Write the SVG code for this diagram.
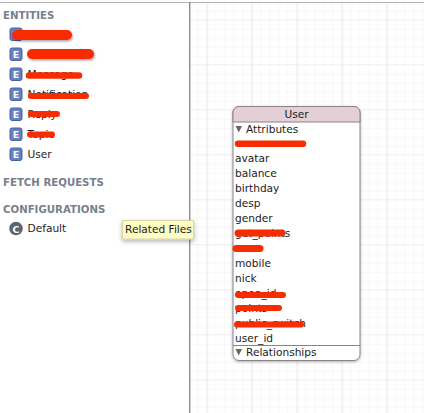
<svg xmlns="http://www.w3.org/2000/svg" width="424" height="413" viewBox="0 0 424 413">
<defs>
<style>
text{font-family:"Lucida Grande","DejaVu Sans","Liberation Sans",sans-serif;font-size:10.6px;fill:#1c1c1c}
.h{font-weight:bold;fill:#76808e;font-size:10.2px}
.i{fill:#fff;font-weight:bold;font-size:9.5px;text-anchor:middle}
.b{fill:#6380c0;stroke:#49639f;stroke-width:1}
.r{fill:none;stroke:#f72c00;stroke-linecap:round}
.t{fill:#666}
</style>
<pattern id="g" x="189.3" y="2.7" width="9" height="9" patternUnits="userSpaceOnUse"><path d="M9 0V9M0 9H9" fill="none" stroke="#f1f1f1" stroke-width="1"/></pattern>
<pattern id="g5" x="171.3" y="20" width="45" height="45" patternUnits="userSpaceOnUse"><path d="M36 0V45M0 45H45" fill="none" stroke="#e9e9e9" stroke-width="1"/></pattern>
<filter id="s" x="-20%" y="-40%" width="140%" height="200%"><feDropShadow dx="0" dy="2" stdDeviation="2" flood-color="#000" flood-opacity=".3"/></filter>
<filter id="s2" x="-20%" y="-20%" width="140%" height="140%"><feDropShadow dx="0" dy="1" stdDeviation="1.5" flood-color="#000" flood-opacity=".3"/></filter>
<filter id="s3" filterUnits="userSpaceOnUse" x="0" y="20" width="110" height="50"><feDropShadow dx="1" dy="1.500" stdDeviation="1.200" flood-color="#000" flood-opacity=".35"/></filter>
</defs>
<rect width="424" height="413" fill="#fff"/>
<rect x="190" y="3" width="234" height="410" fill="url(#g)"/>
<rect x="190" y="3" width="234" height="410" fill="url(#g5)"/>
<rect y="2" width="424" height="1" fill="#b4b4b4"/>
<rect x="189" y="2" width="1.4" height="411" fill="#8c8c8c"/>

<text class="h" x="3" y="19">ENTITIES</text>
<text class="h" x="3" y="186">FETCH REQUESTS</text>
<text class="h" x="3" y="213">CONFIGURATIONS</text>

<g id="entity-1"><rect class="b" x="10" y="28" width="12" height="12.5" rx="2"/><text class="i" x="16" y="38">E</text></g>
<g id="entity-2"><rect class="b" x="10" y="48" width="12" height="12.5" rx="2"/><text class="i" x="16" y="58">E</text></g>
<g id="entity-message"><rect class="b" x="10" y="68" width="12" height="12.5" rx="2"/><text class="i" x="16" y="78">E</text><text x="27.500" y="78">Message</text></g>
<g id="entity-notification"><rect class="b" x="10" y="88" width="12" height="12.5" rx="2"/><text class="i" x="16" y="98">E</text><text x="27.500" y="98">Notification</text></g>
<g id="entity-reply"><rect class="b" x="10" y="108" width="12" height="12.5" rx="2"/><text class="i" x="16" y="118">E</text><text x="27.500" y="118">Reply</text></g>
<g id="entity-topic"><rect class="b" x="10" y="128" width="12" height="12.5" rx="2"/><text class="i" x="16" y="138">E</text><text x="27.500" y="138">Topic</text></g>
<g id="entity-user"><rect class="b" x="10" y="148" width="12" height="12.5" rx="2"/><text class="i" x="16" y="158">E</text><text x="27.500" y="158">User</text></g>
<g id="config-default"><circle cx="16" cy="228.500" r="6.800" fill="#5c6670"/><text class="i" x="16" y="232.500">C</text><text x="27.500" y="232">Default</text></g>

<g id="tooltip"><rect x="122.500" y="220.500" width="71" height="18.500" fill="#fdfdc4" stroke="#d6d6a8" filter="url(#s)"/><text x="125" y="233">Related Files</text></g>

<g id="node-user">
<rect x="233" y="106.500" width="127" height="254" rx="6" fill="#fff" stroke="#8a8288" filter="url(#s2)"/>
<path d="M233 122V112.500a6 6 0 0 1 6-6H354a6 6 0 0 1 6 6V122Z" fill="#e5cfd6" stroke="#8a8288"/>
<text x="296.500" y="118" text-anchor="middle">User</text>
<path class="t" d="M235.500 126H242L238.700 132.500Z"/>
<text x="246" y="133">Attributes</text>
<text x="235" y="162">avatar</text>
<text x="235" y="177">balance</text>
<text x="235" y="192">birthday</text>
<text x="235" y="207">desp</text>
<text x="235" y="222">gender</text>
<text x="235" y="237">get_points</text>
<text x="235" y="267">mobile</text>
<text x="235" y="282">nick</text>
<text x="235" y="297">open_id</text>
<text x="235" y="312">points</text>
<text x="235" y="327">public_switch</text>
<text x="235" y="342">user_id</text>
<path d="M233 345.500H360" stroke="#8a8288" fill="none"/>
<path class="t" d="M235.500 349H242L238.700 355.500Z"/>
<text x="246" y="356">Relationships</text>
</g>

<g id="redactions">
<path class="r" stroke-width="10" d="M17 35H67" filter="url(#s3)"/>
<path class="r" stroke-width="10" d="M32 54H89" filter="url(#s3)"/>
<path class="r" stroke-width="6.500" d="M29 75.500H79"/>
<path class="r" stroke-width="6" d="M31 96H86"/>
<path class="r" stroke-width="6" d="M31 114H57"/>
<path class="r" stroke-width="6" d="M30 134.500H52"/>
<path class="r" stroke-width="6.500" d="M238 143.700H303"/>
<path class="r" stroke-width="7" d="M238 233H282"/>
<path class="r" stroke-width="7" d="M236 248.500H260"/>
<path class="r" stroke-width="6" d="M238 295H283"/>
<path class="r" stroke-width="6" d="M238 308H279"/>
<path class="r" stroke-width="6" d="M237 324.500H301"/>
</g>
</svg>
